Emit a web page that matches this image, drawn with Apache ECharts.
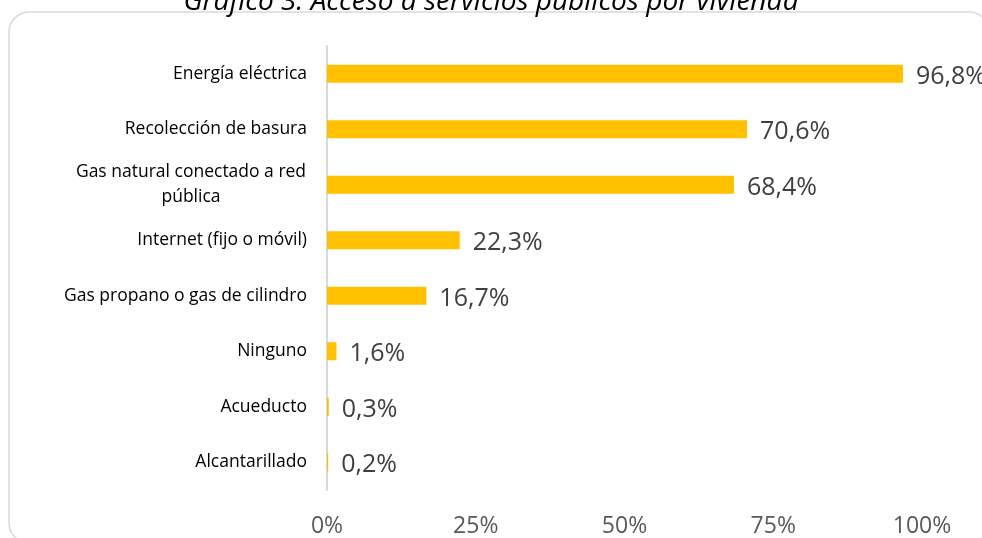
<!DOCTYPE html>
<html>
<head>
<meta charset="utf-8">
<script src="https://cdn.jsdelivr.net/npm/echarts@6/dist/echarts.min.js"></script>
<style>html,body{margin:0;padding:0;background:#fff}#c{width:982px;height:538px}</style>
</head>
<body>
<div id="c"></div>
<script>
var categories = ['Energía eléctrica', 'Recolección de basura', 'Gas natural conectado a red pública', 'Internet (fijo o móvil)', 'Gas propano o gas de cilindro', 'Ninguno', 'Acueducto', 'Alcantarillado'];
var values = [96.8, 70.6, 68.4, 22.3, 16.7, 1.6, 0.3, 0.2];
var xTicks = [0, 25, 50, 75, 100];
var titleText = 'Gráfico 3. Acceso a servicios públicos por vivienda';

var chart = echarts.init(document.getElementById('c'));
chart.setOption({
  animation: false,
  title: {
    text: titleText, left: 'center', top: -17,
    textStyle: {fontFamily: 'Open Sans', fontStyle: 'italic', fontWeight: 'normal', fontSize: 28, color: '#000'}
  },
  graphic: [{
    type: 'rect', shape: {x: 9, y: 12, width: 980, height: 531, r: 20},
    style: {fill: 'none', stroke: '#d9d9d9', lineWidth: 1.5}, z: -1
  }],
  grid: {left: 327, right: 60, top: 46, bottom: 47, containLabel: false},
  xAxis: {
    type: 'value', min: 0, max: 100, interval: 25,
    axisLine: {show: false}, axisTick: {show: false}, splitLine: {show: false},
    axisLabel: {formatter: function (v) { return xTicks.indexOf(v) >= 0 ? v + '%' : ''; }, fontFamily: 'Open Sans', fontSize: 23, color: '#595959', margin: 25}
  },
  yAxis: {
    type: 'category', data: categories, inverse: true,
    axisLine: {show: true, lineStyle: {color: '#d9d9d9', width: 2}},
    axisTick: {show: false},
    axisLabel: {
      margin: 20, fontFamily: 'Open Sans', fontSize: 17.5, color: '#000', align: 'right',
      formatter: function (v) {
        if (v === 'Gas natural conectado a red pública') return '{c|Gas natural conectado a red}\n{c|pública}';
        return v;
      },
      rich: {c: {width: 232, align: 'center', fontFamily: 'Open Sans', fontSize: 17.5, color: '#000', lineHeight: 25}}
    }
  },
  series: [{
    type: 'bar', data: values, barWidth: 18,
    itemStyle: {color: '#FFC000'},
    label: {
      show: true, position: 'right', distance: 13, offset: [0, 3],
      formatter: function (p) { return String(p.value).replace('.', ',') + '%'; },
      fontFamily: 'Open Sans', fontWeight: 'normal', fontSize: 25, color: '#404040'
    }
  }]
});
</script>
</body>
</html>
